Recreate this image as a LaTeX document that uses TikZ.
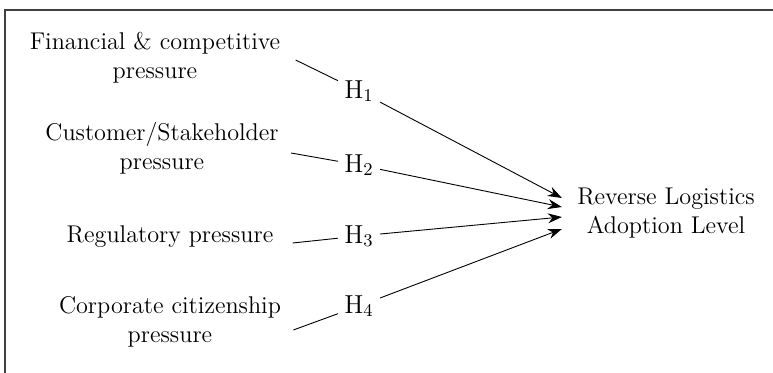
\documentclass[tikz,border=0pt]{standalone}
\usetikzlibrary{arrows.meta}

\begin{document}
\begin{tikzpicture}[x=0.5pt, y=-0.5pt,
    every node/.style={font=\fontsize{12.1}{14.5}\selectfont},
    src/.style={align=center, inner sep=2pt},
    hyp/.style={inner sep=3pt, font=\fontsize{13}{15}\selectfont},
    link/.style={line width=0.45pt},
    arr/.style={link, -{Stealth[length=7pt, width=5pt]}}]
  \useasboundingbox (0,0) rectangle (773,373);
  % frame
  \draw[line width=0.7pt, black!75] (5,373) -- (5,10) -- (773,10);
  % pressures
  \node[src] (fin) at (155,58) {Financial \& competitive\\pressure};
  \node[src] (cus) at (162,148) {Customer/Stakeholder\\pressure};
  \node[src] (reg) at (170,237) {Regulatory pressure};
  \node[src] (cor) at (170,322) {Corporate citizenship\\pressure};
  % hypotheses
  \node[hyp] (h1) at (359,91) {H$_1$};
  \node[hyp] (h2) at (359,165) {H$_2$};
  \node[hyp] (h3) at (359,236) {H$_3$};
  \node[hyp] (h4) at (359,306) {H$_4$};
  % outcome
  \node[src] (rla) at (666,213) {Reverse Logistics\\Adoption Level};
  \draw[link] ([shift={(11,2)}]fin.east) -- (h1);
  \draw[link] ([shift={(8,5)}]cus.east) -- (h2);
  \draw[link] ([shift={(15,6)}]reg.east) -- (h3);
  \draw[link] ([shift={(8,8)}]cor.east) -- (h4);
  \draw[arr] (h1) -- ([shift={(-11,-15)}]rla.west);
  \draw[arr] (h2) -- ([shift={(-11,-6)}]rla.west);
  \draw[arr] (h3) -- ([shift={(-11,4)}]rla.west);
  \draw[arr] (h4) -- ([shift={(-11,16)}]rla.west);
\end{tikzpicture}
\end{document}
